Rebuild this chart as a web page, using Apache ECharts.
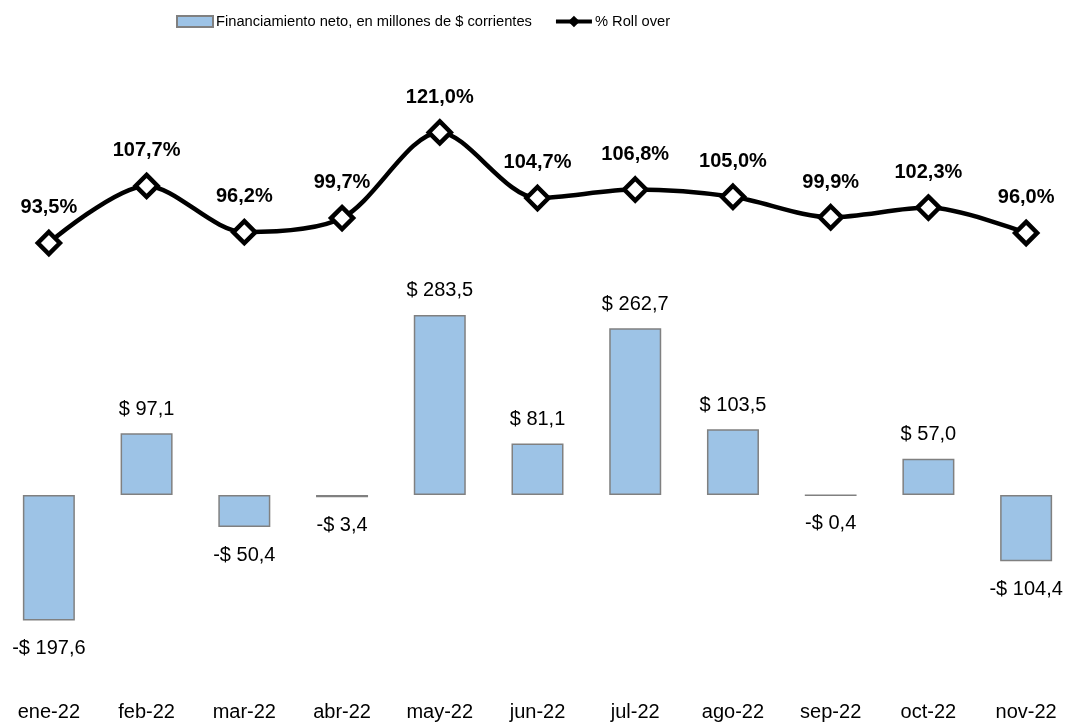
<!DOCTYPE html>
<html>
<head>
<meta charset="utf-8">
<script src="https://cdn.jsdelivr.net/npm/echarts@6/dist/echarts.min.js"></script>
<style>
  html, body { margin: 0; padding: 0; background: #fff; }
  #main { width: 1069px; height: 724px; }
</style>
</head>
<body>
<div id="main"></div>
<script>
// datos
const meses = ['ene-22', 'feb-22', 'mar-22', 'abr-22', 'may-22', 'jun-22', 'jul-22', 'ago-22', 'sep-22', 'oct-22', 'nov-22'];
const financiamiento = [-197.6, 97.1, -50.4, -3.4, 283.5, 81.1, 262.7, 103.5, -0.4, 57.0, -104.4];
const rollOver = [93.5, 107.7, 96.2, 99.7, 121.0, 104.7, 106.8, 105.0, 99.9, 102.3, 96.0];

const FONT = "'Liberation Sans', Arial, sans-serif";
const coma = v => v.toFixed(1).replace('.', ',');

const myChart = echarts.init(document.getElementById('main'));
myChart.setOption({
    animation: false,
    textStyle: { fontFamily: FONT },
    legend: {
        left: 171,
        top: 9,
        itemWidth: 36,
        itemHeight: 11,
        itemGap: 22,
        textStyle: { fontFamily: FONT, fontSize: 14.7, color: '#000', padding: [0, 0, 0, -2] },
        data: [
            { name: 'Financiamiento neto, en millones de $ corrientes', icon: 'rect' },
            { name: '% Roll over', itemStyle: { color: '#000', borderColor: '#000' }, lineStyle: { width: 4 } }
        ]
    },
    grid: { left: 0, right: -6, top: 100, bottom: 34, outerBoundsMode: 'none' },
    xAxis: {
        type: 'category',
        data: meses,
        axisLine: { show: false },
        axisTick: { show: false },
        axisLabel: { fontSize: 20, color: '#000', margin: 12, interval: 0 }
    },
    yAxis: [
        { type: 'value', min: -307.09, max: 622.05, show: false },
        { type: 'value', min: -17.69, max: 129.07, show: false }
    ],
    series: [
        {
            name: 'Financiamiento neto, en millones de $ corrientes',
            type: 'bar',
            yAxisIndex: 0,
            barWidth: 52,
            itemStyle: { color: '#9DC3E6', borderColor: '#808080', borderWidth: 1.5 },
            data: financiamiento.map(v => ({
                value: v,
                label: {
                    show: true,
                    position: v < 0 ? 'bottom' : 'top',
                    distance: v < 0 ? 18 : 14,
                    fontSize: 20,
                    color: '#000',
                    formatter: (v < 0 ? '-$ ' : '$ ') + coma(Math.abs(v))
                }
            }))
        },
        {
            name: '% Roll over',
            type: 'line',
            yAxisIndex: 1,
            smooth: 0.3,
            symbol: 'diamond',
            symbolSize: 22,
            lineStyle: { color: '#000', width: 4.5 },
            itemStyle: { color: '#fff', borderColor: '#000', borderWidth: 4.5 },
            label: {
                show: true,
                position: 'top',
                distance: 12,
                fontSize: 20,
                fontWeight: 'bold',
                color: '#000',
                formatter: p => coma(p.value) + '%'
            },
            data: rollOver
        }
    ]
});
</script>
</body>
</html>
